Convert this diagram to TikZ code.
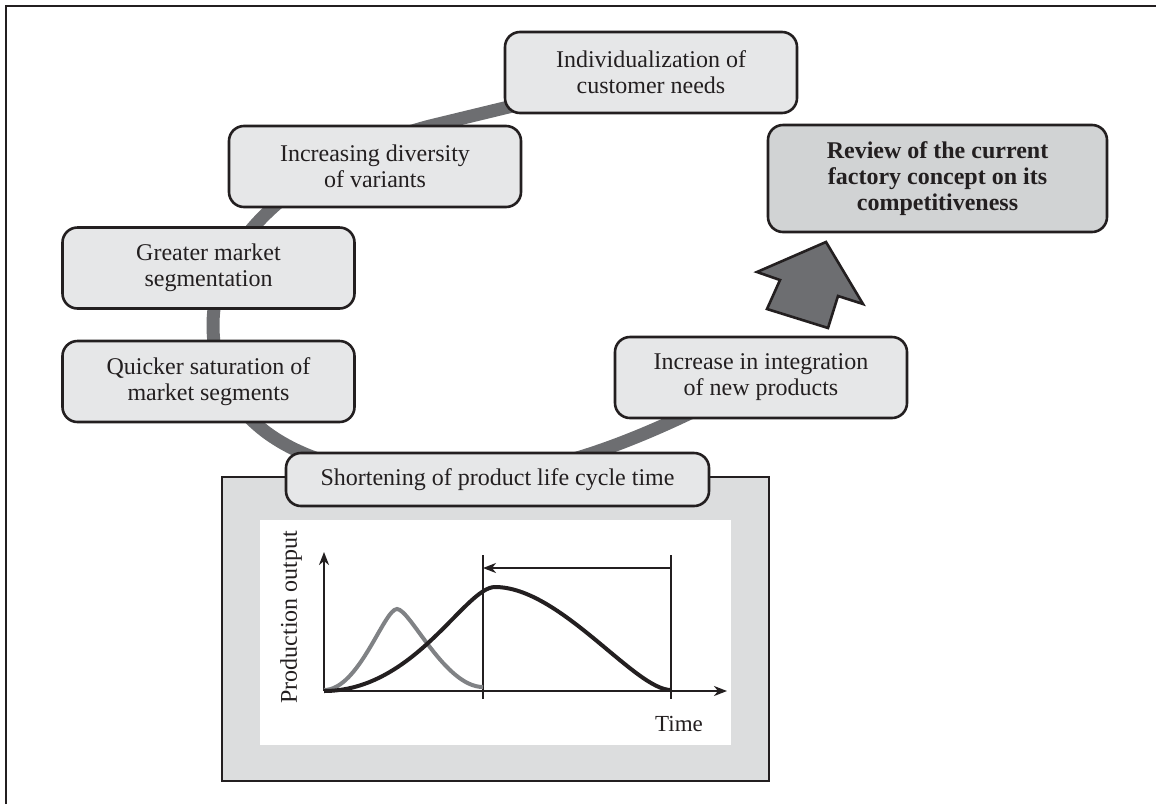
\documentclass[tikz,border=0pt]{standalone}
\usepackage{fontspec}
\setmainfont{Liberation Serif}
\usetikzlibrary{positioning, backgrounds, arrows.meta}

\definecolor{boxgray}{HTML}{E6E7E8}
\definecolor{resgray}{HTML}{D1D3D4}
\definecolor{panelgray}{HTML}{DCDDDE}
\definecolor{ringgray}{HTML}{6D6E71}
\definecolor{curvegray}{HTML}{808285}
\definecolor{ink}{HTML}{231F20}

\begin{document}
\begin{tikzpicture}[x=0.5pt, y=-0.5pt, font=\fontsize{12}{13}\selectfont,
  stage/.style={draw=ink, line width=1.3pt, fill=boxgray, rounded corners=7.5pt,
    minimum width=146pt, minimum height=40.5pt, align=center, text=ink, inner sep=2pt},
  result/.style={stage, fill=resgray, minimum width=169.5pt, minimum height=53.5pt,
    font=\fontsize{12}{13}\selectfont\bfseries},
  axis/.style={ink, line width=1pt, -{Stealth[length=6.5pt, width=5pt, inset=2pt]}}]
  \useasboundingbox (0,0) rectangle (1156,804);
  \draw[ink, line width=1pt] (6,804) |- (1156,6);

  % stages of the cycle
  \node[stage] (indiv) at (651,72.5) {Individualization of\\customer needs};
  \node[stage] (divers) at (375,166.5) {Increasing diversity\\of variants};
  \node[stage] (greater) at (208.5,268) {Greater market\\segmentation};
  \node[stage] (quicker) at (208.5,381.5) {Quicker saturation of\\market segments};
  \node[stage] (increase) at (761,377.5) {Increase in integration\\of new products};
  \node[result] (review) at (937.5,178.5) {Review of the current\\factory concept on its\\competitiveness};

  % panel with the life cycle plot
  \node[draw=ink, line width=1.3pt, fill=panelgray, minimum width=273.5pt, minimum height=152pt] (panel) at (495.5,629) {};
  \node[fill=white, inner sep=0pt, minimum width=235.5pt, minimum height=112.5pt] (plotarea) at (495.5,632.5) {};
  \node[stage, minimum width=211.5pt, minimum height=26.5pt] (shorten) at (497.5,479.5) {Shortening of product life cycle time};

  \coordinate (o) at (324,691);
  \coordinate (ytop) at (324,552);
  \coordinate (xend) at (727,691);
  \draw[axis] (o) -- (ytop);
  \draw[axis] (o) -- (xend);
  \draw[ink, line width=1pt] (483,555) coordinate (t1) -- (483,699);
  \draw[ink, line width=1pt] (671,555) coordinate (t2) -- (671,699);
  \draw[axis] (671,568) -- (483,568);
  \draw[curvegray, line width=2pt] (324,690) .. controls (359,690) and (384,609) .. (397,609)
    .. controls (410,609) and (445,687) .. (483,687);
  \draw[ink, line width=2pt] (o) .. controls (415,691) and (465,587) .. (495,587)
    .. controls (560,587) and (635,690) .. (671,690);
  \node[rotate=90, text=ink] (ylabel) at (291,617) {Production output};
  \node[text=ink, font=\fontsize{11.5}{12}\selectfont] (xlabel) at (679,724) {Time};

  % arrow to the review
  \filldraw[fill=ringgray, draw=ink, line width=1.3pt] (826,242) -- (863,304) -- (838,296)
    -- (828,328) -- (767,309) -- (780,280) -- (757,272) -- cycle;

  % grey ring behind the stages
  \begin{scope}[on background layer]
    \draw[ringgray, line width=6.5pt] (indiv.center) -- (430,126)
      .. controls (330,152) and (213,225) .. (213,325)
      .. controls (213,410) and (280,478) .. (450,478)
      .. controls (560,478) and (660,430) .. (increase.center);
  \end{scope}
\end{tikzpicture}
\end{document}
